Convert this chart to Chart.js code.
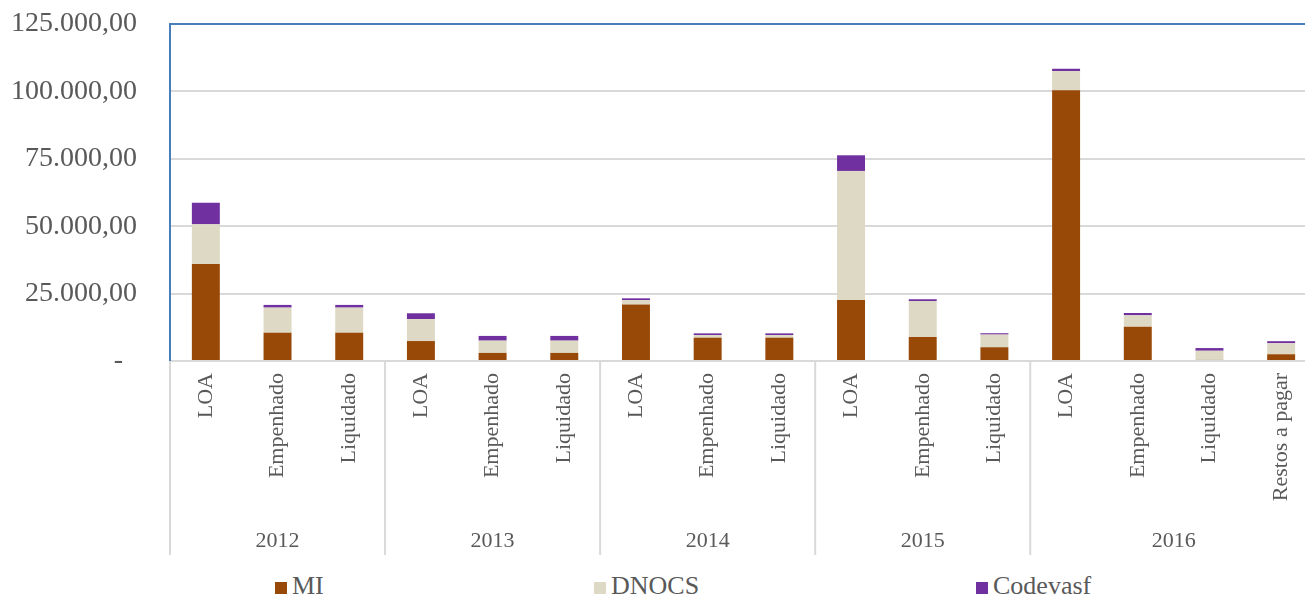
<!DOCTYPE html>
<html>
<head>
<meta charset="utf-8">
<script src="https://cdn.jsdelivr.net/npm/chart.js@4.4.1/dist/chart.umd.min.js"></script>
<style>
  body { margin: 0; background: #fff; overflow: hidden; }
  #wrap { position: relative; width: 1318px; height: 599px; }
  #chart { position: absolute; left: 0; top: 0; }
  .legend-item {
    position: absolute; top: 571px; font-family: "Liberation Serif", serif;
    font-size: 26px; color: #595959; line-height: 30px; white-space: nowrap;
  }
  .legend-item span {
    display: inline-block; width: 12px; height: 12px; margin-right: 5px;
  }
</style>
</head>
<body>
<div id="wrap">
  <canvas id="chart" width="1318" height="565"></canvas>
  <div class="legend-item" style="left:275px"><span style="background:#984807"></span>MI</div>
  <div class="legend-item" style="left:594px"><span style="background:#DDD9C4"></span>DNOCS</div>
  <div class="legend-item" style="left:976px"><span style="background:#7030A0"></span>Codevasf</div>
</div>
<script>
// Categories (bottom level) and their year groups
const categories = [
  "LOA", "Empenhado", "Liquidado",
  "LOA", "Empenhado", "Liquidado",
  "LOA", "Empenhado", "Liquidado",
  "LOA", "Empenhado", "Liquidado",
  "LOA", "Empenhado", "Liquidado", "Restos a pagar"
];
const years = ["2012", "2013", "2014", "2015", "2016"];
const groupSizes = [3, 3, 3, 3, 4];

// Series values
const miValues = [36000, 10500, 10500, 7400, 3000, 3000, 21000, 8650, 8650, 22600, 8900, 5100, 100400, 12700, 400, 2500];
const dnocsValues = [14700, 9300, 9300, 8150, 4550, 4550, 1600, 1000, 1000, 47900, 13350, 4700, 7150, 4250, 3400, 4100];
const codevasfValues = [8000, 1000, 1000, 2150, 1750, 1750, 650, 600, 600, 5800, 650, 500, 850, 850, 1000, 750];

// Y axis tick values
const yTicks = [0, 25000, 50000, 75000, 100000, 125000];

const textColor = "#595959";
const gridColor = "#D9D9D9";
const frameColor = "#4A7EBB";

// Format like 125.000,00 (accounting style, zero shown as "-")
function formatValue(v) {
  if (v === 0) return "-\u00a0\u00a0";
  const intPart = Math.round(v).toString().replace(/\B(?=(\d{3})+(?!\d))/g, ".");
  return intPart + ",00";
}

// no automatic padding from the tick labels, the layout padding decides
function noPadding(scale) {
  scale.paddingTop = 0;
  scale.paddingBottom = 0;
  scale.paddingLeft = 0;
  scale.paddingRight = 0;
}

// Draws the year row and the group separators under the x axis
const yearGroups = {
  id: "yearGroups",
  afterDraw(chart) {
    const ctx = chart.ctx;
    const x = chart.scales.x;
    const area = chart.chartArea;
    const step = x.getPixelForValue(1) - x.getPixelForValue(0);
    ctx.save();
    ctx.strokeStyle = gridColor;
    ctx.lineWidth = 2;
    ctx.fillStyle = textColor;
    ctx.font = "22px 'Liberation Serif'";
    ctx.textAlign = "center";
    ctx.textBaseline = "middle";
    let start = 0;
    years.forEach((year, i) => {
      const left = x.getPixelForValue(start) - step / 2;
      const right = x.getPixelForValue(start + groupSizes[i] - 1) + step / 2;
      ctx.beginPath();
      ctx.moveTo(left, area.bottom);
      ctx.lineTo(left, 555);
      ctx.stroke();
      ctx.fillText(year, (left + right) / 2, 541);
      start += groupSizes[i];
    });
    ctx.restore();
  }
};

const ctx = document.getElementById("chart").getContext("2d");
const myChart = new Chart(ctx, {
  type: "bar",
  data: {
    labels: categories,
    datasets: [
      { label: "MI", data: miValues, backgroundColor: "#984807" },
      { label: "DNOCS", data: dnocsValues, backgroundColor: "#DDD9C4" },
      { label: "Codevasf", data: codevasfValues, backgroundColor: "#7030A0" }
    ]
  },
  options: {
    responsive: false,
    animation: false,
    devicePixelRatio: 1,
    categoryPercentage: 1,
    barPercentage: 0.39,
    layout: { padding: { top: 24, right: 1, left: 0, bottom: 0 } },
    plugins: {
      legend: { display: false },
      tooltip: { enabled: false }
    },
    scales: {
      x: {
        stacked: true,
        grid: { display: false, drawTicks: false },
        border: { color: gridColor, width: 2 },
        ticks: {
          autoSkip: false,
          minRotation: 90,
          maxRotation: 90,
          padding: 12,
          color: textColor,
          font: { family: "Liberation Serif", size: 22 }
        },
        afterFit(scale) {
          scale.height = 204;
          noPadding(scale);
        }
      },
      y: {
        stacked: true,
        min: 0,
        max: 125000,
        afterBuildTicks(scale) { scale.ticks = yTicks.map((v) => ({ value: v })); },
        grid: {
          drawTicks: false,
          lineWidth: 2,
          color: (c) => (c.tick && c.tick.value === 125000 ? frameColor : gridColor)
        },
        border: { color: frameColor, width: 2 },
        ticks: {
          padding: 33,
          color: textColor,
          font: { family: "Liberation Serif", size: 28 },
          callback: (v) => formatValue(v)
        },
        afterFit(scale) {
          scale.width = 170;
          noPadding(scale);
        }
      }
    }
  },
  plugins: [yearGroups]
});
</script>
</body>
</html>
